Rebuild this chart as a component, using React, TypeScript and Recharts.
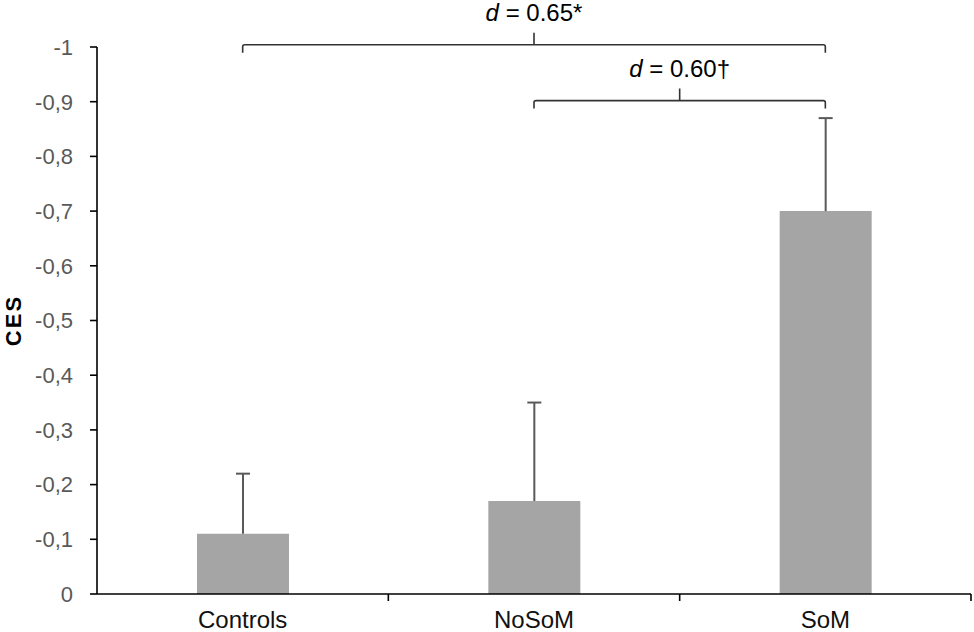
import React from 'react';
import { BarChart, Bar, XAxis, YAxis, ReferenceLine } from 'recharts';

const categories = ['Controls', 'NoSoM', 'SoM'];
const meanCES = [-0.11, -0.17, -0.7];
const errorCES = [-0.11, -0.18, -0.17];
const yTicks = [0, -0.1, -0.2, -0.3, -0.4, -0.5, -0.6, -0.7, -0.8, -0.9, -1];
const bracketFrom = ['Controls', 'NoSoM'];
const bracketTo = ['SoM', 'SoM'];
const bracketLevel = [-1.004, -0.902];
const bracketText = [' = 0.65*', ' = 0.60\u2020'];

const data = categories.map((c, i) => ({ name: c, mean: meanCES[i], err: errorCES[i] }));

const FONT = '"Liberation Sans", Arial, sans-serif';

const fmt = (v: number) => {
  if (v === 0) return '0';
  if (v === -1) return '-1';
  return v.toFixed(1).replace('.', ',');
};

const ErrShape = (props: any) => {
  const { x, y, width, height } = props;
  const top = Math.min(y, y + height);
  const bottom = Math.max(y, y + height);
  const cx = x + width / 2;
  return (
    <g>
      <line x1={cx} y1={top} x2={cx} y2={bottom} stroke="#595959" strokeWidth={2} />
      <line x1={cx - 7} y1={top} x2={cx + 7} y2={top} stroke="#595959" strokeWidth={2} />
    </g>
  );
};

const makeBracket = (text: string) => (props: any) => {
  const { x1, y1, x2 } = props;
  const mx = (x1 + x2) / 2;
  return (
    <g>
      <path
        d={`M${x1},${y1 + 8} L${x1},${y1 + 2} Q${x1},${y1} ${x1 + 2},${y1} L${x2 - 2},${y1} Q${x2},${y1} ${x2},${y1 + 2} L${x2},${y1 + 8} M${mx},${y1} L${mx},${y1 - 12}`}
        fill="none"
        stroke="#333"
        strokeWidth={1.6}
      />
      <text x={mx} y={y1 - 24} textAnchor="middle" fontSize={24} fontFamily={FONT} fill="#000">
        <tspan fontStyle="italic">d</tspan>
        {text}
      </text>
    </g>
  );
};

const CatTick = (props: any) => {
  const { x, y, payload } = props;
  const off = payload && typeof payload.offset === 'number' ? payload.offset : 145.7;
  const axisY = y - 17;
  return (
    <g>
      <line x1={x + off} y1={axisY} x2={x + off} y2={axisY + 7} stroke="#000" strokeWidth={1.6} />
      <text x={x} y={y} dy={17} textAnchor="middle" fontSize={24} fontFamily={FONT} fill="#111">
        {payload.value}
      </text>
    </g>
  );
};

export default function App() {
  return (
    <div style={{ position: 'absolute', left: 0, top: 0, background: '#fff' }}>
      <BarChart width={974} height={632} data={data} margin={{ top: 47, right: 3, left: 0, bottom: 0 }}>
        <XAxis
          dataKey="name"
          height={38}
          axisLine={{ stroke: '#000', strokeWidth: 1.6 }}
          tickLine={{ stroke: 'none' }}
          tickSize={7}
          tickMargin={10}
          tick={<CatTick />}
          interval={0}
        />
        <YAxis
          type="number"
          domain={[-1, 0]}
          reversed
          ticks={yTicks}
          interval={0}
          width={97}
          tickFormatter={fmt}
          axisLine={{ stroke: '#000', strokeWidth: 1.6 }}
          tickLine={{ stroke: '#000', strokeWidth: 1.6 }}
          tickSize={7}
          tickMargin={17}
          tick={{ fill: '#595959', fontSize: 22, fontFamily: FONT }}
          label={{
            content: (p: any) => {
              const vb = p.viewBox || { x: 0, y: 47, width: 97, height: 547 };
              const cy = vb.y + vb.height / 2;
              return (
                <text
                  x={21}
                  y={cy}
                  transform={`rotate(-90, 21, ${cy})`}
                  textAnchor="middle"
                  fontSize={22}
                  fontWeight="bold"
                  letterSpacing={2}
                  fontFamily={FONT}
                  fill="#000"
                >
                  CES
                </text>
              );
            },
          }}
        />
        <Bar dataKey="mean" stackId="a" fill="#a5a5a5" barSize={92} isAnimationActive={false} />
        <Bar dataKey="err" stackId="a" shape={<ErrShape />} barSize={92} isAnimationActive={false} />
        {bracketLevel.map((lvl, i) => (
          <ReferenceLine
            key={i}
            segment={[
              { x: bracketFrom[i], y: lvl },
              { x: bracketTo[i], y: lvl },
            ]}
            ifOverflow="visible"
            stroke="#333"
            shape={makeBracket(bracketText[i])}
          />
        ))}
      </BarChart>
    </div>
  );
}
